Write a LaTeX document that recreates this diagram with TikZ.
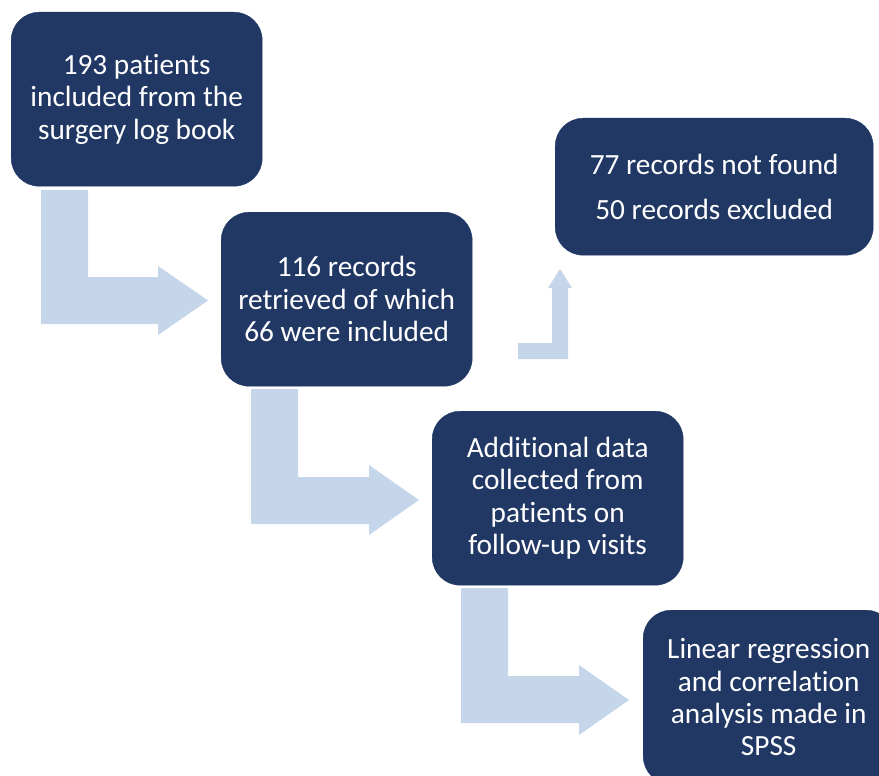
\documentclass[tikz,border=0pt]{standalone}
\usepackage{fontspec}
\setmainfont{Carlito}[Ligatures={NoCommon}]
\definecolor{navy}{HTML}{213865}
\definecolor{lightarrow}{HTML}{C5D6EB}
\begin{document}
\begin{tikzpicture}[x=1pt,y=-1pt,
  box/.style={fill=navy,draw=navy,rounded corners=28pt,text=white,align=center,
    anchor=north west,inner sep=0pt,
    font=\fontsize{29.3}{32.3}\selectfont},
  blockarrow/.style={fill=lightarrow,draw=none}]
\useasboundingbox (0,0) rectangle (879,776);
% boxes
\node[box,minimum width=251pt,minimum height=174pt] (b1) at (11,12) {193 patients\\included from the\\surgery log book};
\node[box,minimum width=251pt,minimum height=174pt] (b2) at (221,212) {116 records\\retrieved of which\\66 were included};
\node[box,minimum width=318pt,minimum height=137pt] (b3) at (555,118) {77 records not found\\[13pt]50 records excluded};
\node[box,minimum width=251pt,minimum height=174pt] (b4) at (432,411) {Additional data\\collected from\\patients on\\follow-up visits};
\node[box,minimum width=251pt,minimum height=174pt] (b5) at (643,610) {Linear regression\\and correlation\\analysis made in\\SPSS};
% block arrows
\fill[blockarrow] (41,190) -- (88,190) -- (88,277) -- (158,277) -- (158,266) -- (208,300.5) -- (158,335) -- (158,324) -- (41,324) -- cycle;
\fill[blockarrow] (251,389) -- (298,389) -- (298,477) -- (369,477) -- (369,465) -- (419,500) -- (369,535) -- (369,524) -- (251,524) -- cycle;
\fill[blockarrow] (461,588) -- (508,588) -- (508,676) -- (579,676) -- (579,665) -- (629,700) -- (579,735) -- (579,723) -- (461,723) -- cycle;
\fill[blockarrow] (518,343) -- (552,343) -- (552,288) -- (548,288) -- (560,269) -- (572,288) -- (568,288) -- (568,359) -- (518,359) -- cycle;
\end{tikzpicture}
\end{document}
